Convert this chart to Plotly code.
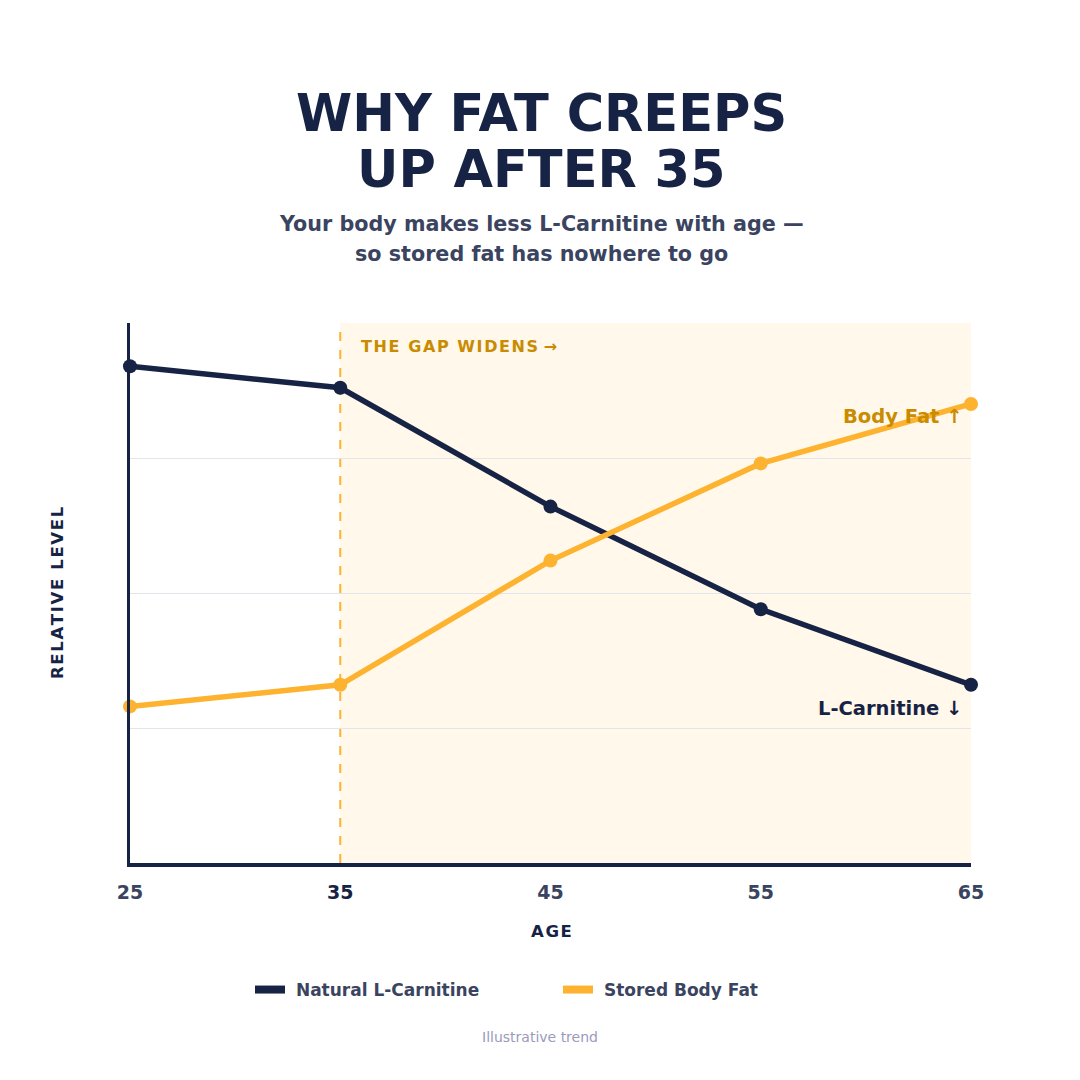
import plotly.graph_objects as go

ages = [25, 35, 45, 55, 65]
carnitine = [92, 88, 66, 47, 33]
body_fat = [29, 33, 56, 74, 85]
tick_labels = ["25", "35", "45", "55", "65"]

NAVY = "#172344"
ORANGE = "#FDB32F"
GOLD = "#C98B00"
GREY = "#3A4460"
FONT = "DejaVu Sans"
HS = "\u200a"  # hair space used as letter spacing

# plot area geometry (px)
L, R, T, B = 130, 971, 323, 863
H = B - T
W = R - L

def py(p):
    return (B - p) / H

def px(p):
    return (p - L) / W

def spaced(s):
    return HS.join(list(s))

fig = go.Figure()

fig.add_trace(go.Scatter(
    x=ages, y=carnitine, mode="lines+markers", name="Natural L-Carnitine",
    line=dict(color=NAVY, width=5.5), marker=dict(color=NAVY, size=14),
    cliponaxis=False, showlegend=False))
fig.add_trace(go.Scatter(
    x=ages, y=body_fat, mode="lines+markers", name="Stored Body Fat",
    line=dict(color=ORANGE, width=5.5), marker=dict(color=ORANGE, size=14),
    cliponaxis=False, showlegend=False))
# legend-only entries
fig.add_trace(go.Scatter(x=[None], y=[None], mode="lines", name="\u00a0Natural L-Carnitine",
                         line=dict(color=NAVY, width=8)))
fig.add_trace(go.Scatter(x=[None], y=[None], mode="lines", name="\u00a0Stored Body Fat",
                         line=dict(color=ORANGE, width=8)))

fig.add_shape(type="rect", xref="x", yref="y", x0=35, x1=65, y0=0, y1=100,
              fillcolor="#FFF8EB", line=dict(width=0), layer="below")
fig.add_shape(type="line", xref="x", yref="y", x0=35, x1=35, y0=0, y1=100,
              line=dict(color=ORANGE, width=2, dash="dash"), layer="below")

ann = []
def a(text, x, y, size, color, weight="bold", xanchor="center", xref="paper", yref="paper", **kw):
    ann.append(dict(text=text, x=x, y=y, xref=xref, yref=yref, showarrow=False,
                    xanchor=xanchor, yanchor="middle",
                    font=dict(family=FONT, size=size, color=color, weight=weight), **kw))

cx = px(541)
a("WHY FAT CREEPS", cx, py(113), 51, NAVY)
a("UP AFTER 35", cx, py(169), 51, NAVY)
a("Your body makes less L-Carnitine with age —", cx, py(224), 20.7, GREY)
a("so stored fat has nowhere to go", cx, py(254), 20.7, GREY)
a("Illustrative trend", px(540), py(1037), 14, "#9A9BBC", weight="normal")
a(spaced("AGE"), px(551), py(931), 16.5, NAVY)
a(spaced("RELATIVE") + "\u2009 " + spaced("LEVEL"), px(57), py(593), 16.5, NAVY, textangle=-90)
a(spaced("THE GAP WIDENS") + " →", 35, (B - 346) / 5.4, 16, GOLD, xanchor="left", xref="x", yref="y", xshift=19)
a("Body Fat ↑", 65, (B - 416) / 5.4, 19.5, GOLD, xanchor="right", xref="x", yref="y", xshift=-6)
a("L-Carnitine ↓", 65, (B - 708) / 5.4, 19.5, NAVY, xanchor="right", xref="x", yref="y", xshift=-7)

ticktext = [t if t != "35" else f'<span style="color:{NAVY}">{t}</span>' for t in tick_labels]

fig.update_layout(
    width=1080, height=1080,
    margin=dict(l=L, r=1080 - R, t=T, b=1080 - B),
    paper_bgcolor="white", plot_bgcolor="white",
    annotations=ann,
    showlegend=True,
    legend=dict(orientation="h", x=px(250), xanchor="left", y=py(990), yanchor="middle",
                font=dict(family=FONT, size=17, color=GREY, weight="bold"),
                entrywidth=263, bgcolor="rgba(0,0,0,0)"),
    xaxis=dict(range=[25, 65], tickvals=ages, ticktext=ticktext,
               showgrid=False, zeroline=False, showline=True, linecolor=NAVY, linewidth=4,
               ticks="", ticklabelstandoff=9,
               tickfont=dict(family=FONT, size=19, color=GREY, weight="bold")),
    yaxis=dict(range=[0, 100], tickvals=[25, 50, 75], showticklabels=False,
               showgrid=True, gridcolor="#E3E5EC", gridwidth=1,
               zeroline=False, showline=True, linecolor=NAVY, linewidth=3, ticks=""),
)

fig.write_html("out.html")
